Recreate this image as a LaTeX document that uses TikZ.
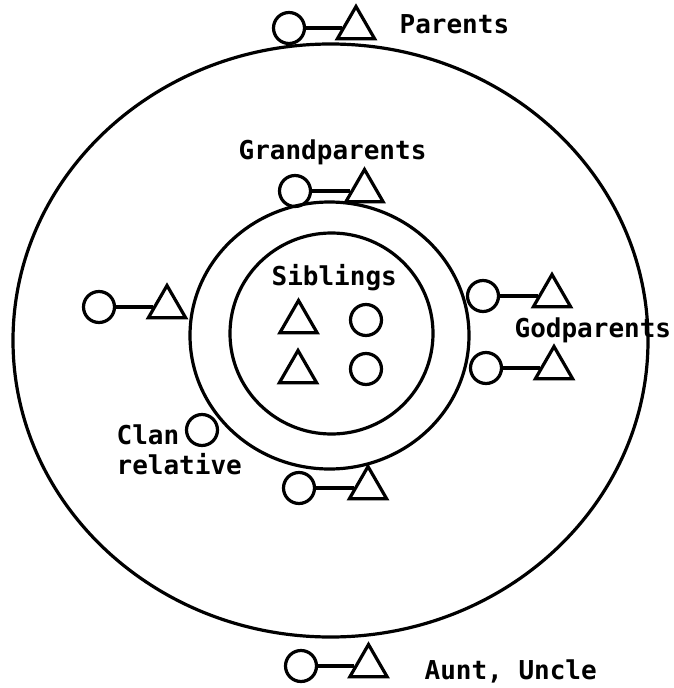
\documentclass[tikz,border=0pt]{standalone}
\usepackage{fontspec}
\newfontfamily\plotfont{DejaVu Sans Mono}
\usetikzlibrary{shapes.geometric}
\begin{document}
\begin{tikzpicture}[x=1pt,y=-1pt,line width=3.2pt,
  female/.style={circle,draw,minimum size=31pt,inner sep=0pt},
  male/.style={regular polygon,regular polygon sides=3,draw,minimum size=43pt,inner sep=0pt},
  lbl/.style={font=\plotfont\bfseries\fontsize{26}{30}\selectfont,inner sep=0pt,anchor=base west},
  ring/.style={draw,line width=3.2pt},
  tie/.style={draw,line width=3.2pt}]
\useasboundingbox (0,0) rectangle (673,688);

% rings
\draw[ring] (330.5,340.5) ellipse [x radius=317.5,y radius=296.5];
\draw[ring] (329.5,335.5) ellipse [x radius=139.5,y radius=133.5];
\draw[ring] (331.5,333.5) ellipse [x radius=101.5,y radius=100.5];

% Parents
\node[female] (pc) at (289,28) {};
\node[male]   (pt) at (356,28) {};
\draw[tie] (pc) -- (pt);
\node[lbl] (pl) at (398,33) {Parents};

% Grandparents
\node[female] (gc) at (295,191) {};
\node[male]   (gt) at (364.5,191) {};
\draw[tie] (gc) -- (gt);
\node[lbl] (gl) at (237,159) {Grandparents};

% left couple
\node[female] (lc) at (99,307) {};
\node[male]   (lt) at (167,307) {};
\draw[tie] (lc) -- (lt);

% Godparents couples
\node[female] (ruc) at (483,296) {};
\node[male]   (rut) at (552,296) {};
\draw[tie] (ruc) -- (rut);
\node[female] (rlc) at (486,368) {};
\node[male]   (rlt) at (554,368) {};
\draw[tie] (rlc) -- (rlt);
\node[lbl] (godl) at (513,337) {Godparents};

% bottom middle couple
\node[female] (bc) at (299,488) {};
\node[male]   (bt) at (368,488) {};
\draw[tie] (bc) -- (bt);

% Clan relative
\node[female] (cc) at (202,430) {};
\node[lbl] (cl1) at (115,444) {Clan};
\node[lbl] (cl2) at (115,474) {relative};

% Aunt, Uncle
\node[female] (ac) at (301,666) {};
\node[male]   (at) at (368.5,666) {};
\draw[tie] (ac) -- (at);
\node[lbl] (al) at (423,679) {Aunt, Uncle};

% Siblings
\node[lbl] (sl) at (270,285) {Siblings};
\node[male]   (s1) at (298.5,322) {};
\node[female] (s2) at (366,320) {};
\node[male]   (s3) at (298,372) {};
\node[female] (s4) at (366,369) {};
\end{tikzpicture}
\end{document}
